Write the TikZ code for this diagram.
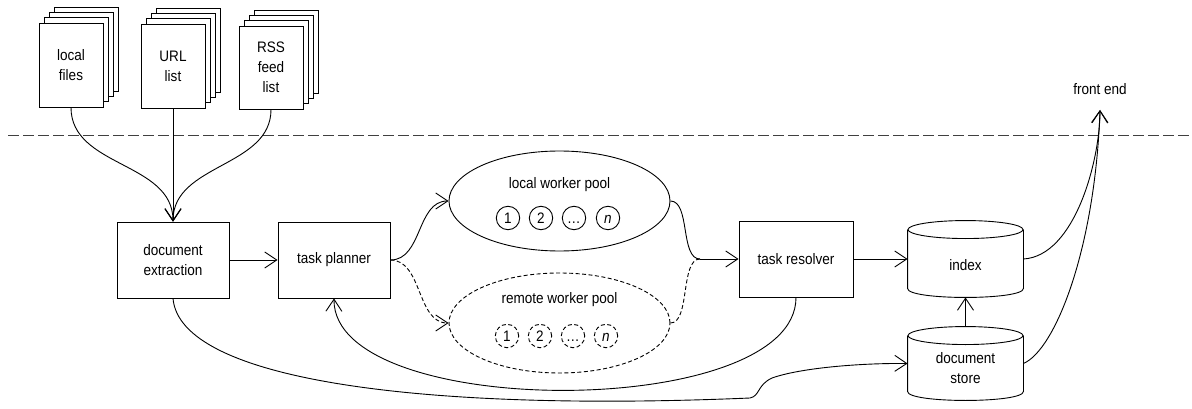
\documentclass[tikz,border=0pt]{standalone}
\usepackage{fontspec}
\setmainfont{Liberation Sans}[FakeStretch=0.89]
\usetikzlibrary{arrows.meta,shapes.geometric,calc}
\newcommand\mycyl[1]{%
  \draw[fill=white] ($(#1.north)+(0,9)$) ellipse[x radius=57.5, y radius=9];
  \draw ($(#1.north west)+(0,9)$) -- ($(#1.south west)+(0,-9)$)
    .. controls ($(#1.south west)+(0,3)$) and ($(#1.south east)+(0,3)$) .. ($(#1.south east)+(0,-9)$)
    -- ($(#1.north east)+(0,9)$);
}
\begin{document}
\begin{tikzpicture}[x=1pt,y=-1pt, line width=0.9pt,
  font=\fontsize{15.2}{19.8}\selectfont,
  box/.style={draw, minimum width=112pt, minimum height=76pt, inner sep=0pt, align=center},
  page/.style={draw, fill=white, minimum width=64pt, minimum height=84pt, inner sep=0pt, align=center},
  pool/.style={draw, ellipse, minimum width=221pt, minimum height=100pt, inner sep=0pt},
  worker/.style={draw, circle, minimum size=23.4pt, inner sep=0pt},
  dsh/.style={dash pattern=on 4pt off 2.5pt},
  arr/.style={-{Straight Barb[length=12pt,width=16pt]}},
  ]
\useasboundingbox (0,0) rectangle (1192,409);

% separator
\coordinate (sepL) at (8,135);
\coordinate (sepR) at (1192,135);
\draw[black!75, dash pattern=on 10.5pt off 4.5pt] (sepL) -- (sepR);

% document stacks
\foreach \k in {3,2,1} {
  \node[page, name=lfb\k] at (71+5.3*\k, 65-5.3*\k) {};
  \node[page, name=ufb\k] at (173+5.3*\k, 66-5.3*\k) {};
  \node[page, name=rfb\k, minimum height=83pt] at (271+5.3*\k, 67.5-5.3*\k) {};
}
\node[page] (lf) at (71,65) {local\\files};
\node[page] (uf) at (173,66) {URL\\list};
\node[page, minimum height=83pt] (rf) at (271,67.5) {RSS\\feed\\list};

% boxes
\node[box] (de) at (173,260) {document\\extraction};
\node[box] (tp) at (334,260) {task planner};
\node[box, minimum width=114pt] (tr) at (796,259) {task resolver};

% worker pools
\node[pool] (lp) at (559.5,201) {};
\node (lpt) at (559.5,185) {local worker pool};
\node[worker] (lw1) at (508,218) {1};
\node[worker] (lw2) at (541,218) {2};
\node[worker] (lw3) at (574,218) {\vphantom{1}\ldots};
\node[worker] (lw4) at (608,218) {\textit{n}\vphantom{1}};

\node[pool, dsh] (rp) at (559.5,323) {};
\node (rpt) at (559.5,300) {remote worker pool};
\node[worker, dsh] (rw1) at (507,336) {1};
\node[worker, dsh] (rw2) at (540,336) {2};
\node[worker, dsh] (rw3) at (573,336) {\vphantom{1}\ldots};
\node[worker, dsh] (rw4) at (606,336) {\textit{n}\vphantom{1}};

% cylinders
\node[minimum width=115pt, minimum height=76pt, inner sep=0pt] (ix) at (965.5,259) {};
\mycyl{ix}
\node (ixt) at (965.5,265) {index};
\node[minimum width=115pt, minimum height=73pt, inner sep=0pt] (ds) at (965.5,363.5) {};
\mycyl{ds}
\node[align=center] (dst) at (965.5,368) {document\\store};

% front end
\node (fe) at (1100,89) {front end};
\coordinate (fetip) at (1100,110);

% connectors
\draw[arr] (lf.south) .. controls +(0,60) and +(0,-60) .. (de.north);
\draw[arr] (uf.south) -- (de.north);
\draw[arr] (rf.south) .. controls +(0,58) and +(0,-58) .. (de.north);
\draw[arr] (de.east) -- (tp.west);

\draw[arr] (tp.east) .. controls +(32,0) and +(-32,0) .. (lp.west);
\draw[arr, dsh] (tp.east) .. controls +(32,0) and +(-32,0) .. (rp.west);
\coordinate (mg) at (700,259);
\draw (lp.east) .. controls +(20,0) and +(-20,0) .. (mg);
\draw[dsh] (rp.east) .. controls +(20,0) and +(-20,0) .. (mg);
\draw[arr] (mg) -- (tr.west);

\draw[arr] (tr.east) -- (ix.west);
\draw[arr] (ds.north) -- (ix.south);

\draw[arr] (tr.south) .. controls (796,421) and (333,421) .. (tp.south);
\draw[arr] (de.south) .. controls (180,380) and (420,412) .. (750,398)
  .. controls (760,396) and (757,385) .. (772,378)
  .. controls (800,368) and (860,363) .. (ds.west);

\draw[arr] (ix.east) .. controls (1075,256) and (1100,160) .. (fetip);
\draw[arr] (ds.east) .. controls (1055,350) and (1095,250) .. (fetip);
\end{tikzpicture}
\end{document}
